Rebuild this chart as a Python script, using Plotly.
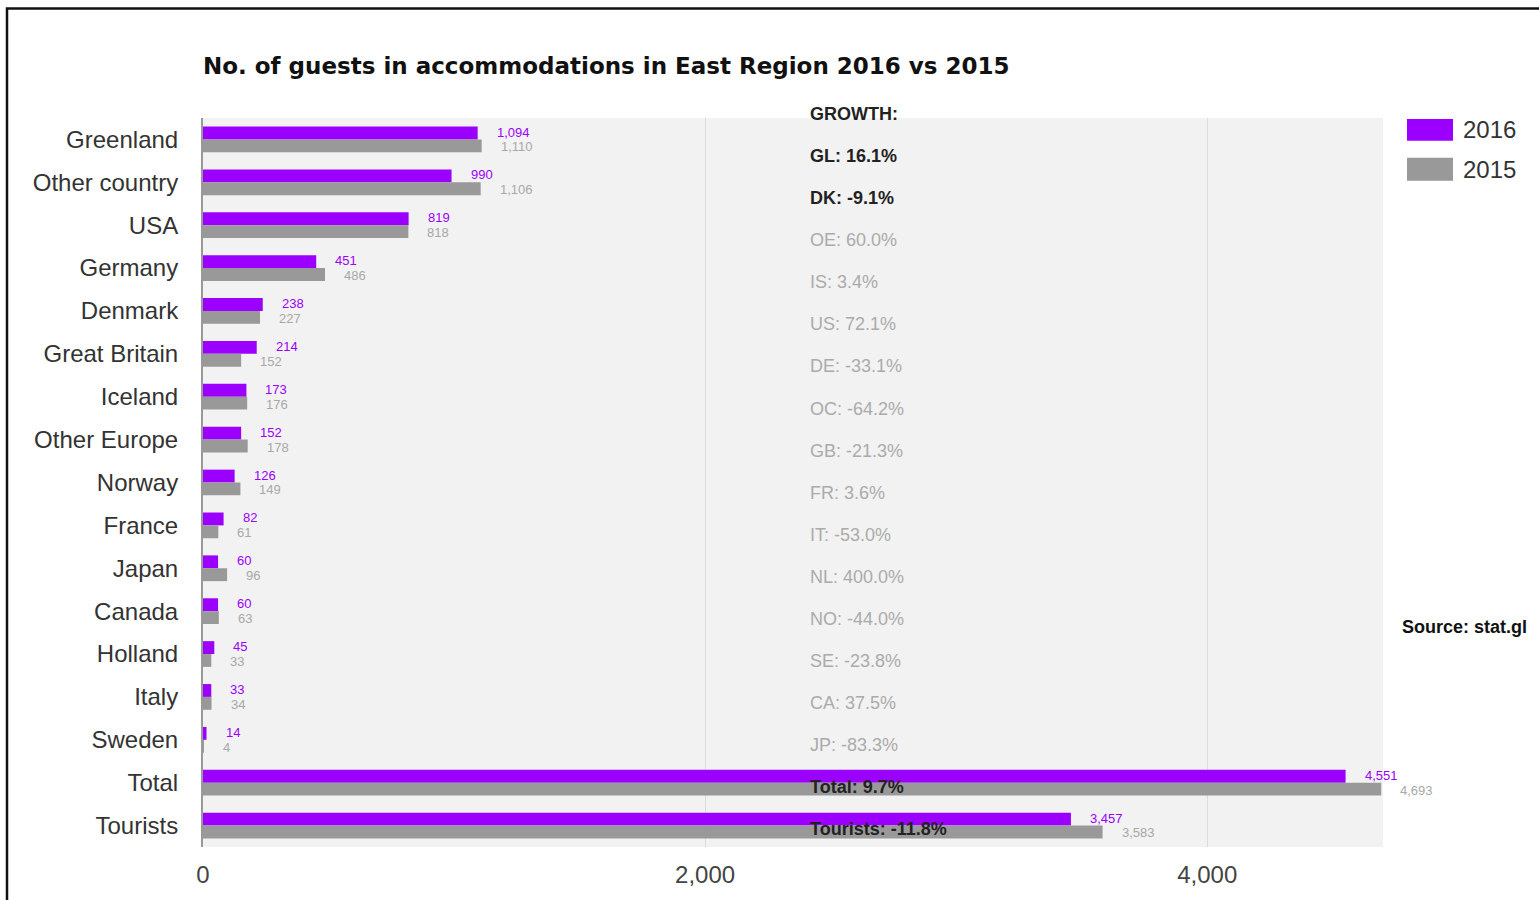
import plotly.graph_objects as go

# --- data -------------------------------------------------------------
categories = ["Greenland", "Other country", "USA", "Germany", "Denmark",
              "Great Britain", "Iceland", "Other Europe", "Norway", "France",
              "Japan", "Canada", "Holland", "Italy", "Sweden", "Total", "Tourists"]
guests_2016 = [1094, 990, 819, 451, 238, 214, 173, 152, 126, 82, 60, 60, 45, 33, 14, 4551, 3457]
guests_2015 = [1110, 1106, 818, 486, 227, 152, 176, 178, 149, 61, 96, 63, 33, 34, 4, 4693, 3583]

growth_labels = ["GROWTH:", "GL: 16.1%", "DK: -9.1%", "OE: 60.0%", "IS: 3.4%",
                 "US: 72.1%", "DE: -33.1%", "OC: -64.2%", "GB: -21.3%", "FR: 3.6%",
                 "IT: -53.0%", "NL: 400.0%", "NO: -44.0%", "SE: -23.8%", "CA: 37.5%",
                 "JP: -83.3%", "Total: 9.7%", "Tourists: -11.8%"]
growth_bold = {"GROWTH:", "GL: 16.1%", "DK: -9.1%", "Total: 9.7%", "Tourists: -11.8%"}

# --- style -----------------------------------------------------------
W, H = 1539, 900
ML, MR, MT, MB = 203, 156, 118, 49
PURPLE = "#9b00ff"
GREY = "#999999"
FONT = "Liberation Sans, Arial, Helvetica, sans-serif"
TITLE_FONT = "DejaVu Sans, Liberation Sans, Arial, sans-serif"

plot_w = W - ML - MR
plot_h = H - MT - MB


def px_x(px):
    return (px - ML) / plot_w


def px_y(py):
    return (H - MB - py) / plot_h


fig = go.Figure()
fig.add_trace(go.Bar(name="2016", y=categories, x=guests_2016, orientation="h",
                     marker=dict(color=PURPLE, line=dict(width=0))))
fig.add_trace(go.Bar(name="2015", y=categories, x=guests_2015, orientation="h",
                     marker=dict(color=GREY, line=dict(width=0))))

annotations = []
BAR_W = 0.3
# value labels at the end of each bar
for i, (a, b) in enumerate(zip(guests_2016, guests_2015)):
    annotations.append(dict(x=a, y=i - BAR_W / 2, xref="x", yref="y", text=f"{a:,}",
                            showarrow=False, xanchor="left", yanchor="middle",
                            xshift=17, yshift=1,
                            font=dict(family=FONT, size=13, color=PURPLE)))
    annotations.append(dict(x=b, y=i + BAR_W / 2, xref="x", yref="y", text=f"{b:,}",
                            showarrow=False, xanchor="left", yanchor="middle",
                            xshift=17, yshift=-1,
                            font=dict(family=FONT, size=13, color="#a8a8a8")))

# growth column
for k, txt in enumerate(growth_labels):
    bold = txt in growth_bold
    annotations.append(dict(x=px_x(808), y=px_y(114 + 42.3 * k), xref="paper", yref="paper",
                            text=f"<b>{txt}</b>" if bold else txt, showarrow=False,
                            xanchor="left", yanchor="middle",
                            font=dict(family=FONT, size=18,
                                      color="#222222" if bold else "#ababab")))

# legend
shapes = []
for (label, color, y0, y1) in [("2016", PURPLE, 119, 141), ("2015", GREY, 158, 181)]:
    shapes.append(dict(type="rect", xref="paper", yref="paper",
                       x0=px_x(1407), x1=px_x(1453), y0=px_y(y1), y1=px_y(y0),
                       fillcolor=color, line=dict(width=0)))
    annotations.append(dict(x=px_x(1461), y=px_y((y0 + y1) / 2), xref="paper", yref="paper",
                            text=label, showarrow=False, xanchor="left", yanchor="middle",
                            font=dict(family=FONT, size=24, color="#333333")))

annotations.append(dict(x=px_x(1400), y=px_y(630), xref="paper", yref="paper",
                        text="<b>Source: stat.gl</b>", showarrow=False,
                        xanchor="left", yanchor="middle",
                        font=dict(family=FONT, size=18, color="#111111")))

# outer frame
shapes.append(dict(type="rect", xref="paper", yref="paper", layer="above",
                   x0=px_x(7), x1=px_x(W + 20), y0=px_y(H + 20), y1=px_y(8),
                   line=dict(color="#111111", width=2.5), fillcolor="rgba(0,0,0,0)"))

fig.update_layout(
    width=W, height=H,
    margin=dict(l=ML, r=MR, t=MT, b=MB, pad=0),
    paper_bgcolor="white",
    plot_bgcolor="#f2f2f2",
    barmode="group", bargap=0.4, bargroupgap=0.0,
    showlegend=False,
    title=dict(text="<b>No. of guests in accommodations in East Region 2016 vs 2015</b>",
               x=0, xref="paper", xanchor="left",
               y=1 - 66 / H, yref="container", yanchor="middle",
               font=dict(family=TITLE_FONT, size=23, color="#111111")),
    xaxis=dict(range=[0, 4700], dtick=2000, tickformat=",", showgrid=True,
               gridcolor="#dcdcdc", gridwidth=1, zeroline=False, showline=False,
               ticks="", ticklabelstandoff=11,
               tickfont=dict(family=FONT, size=24, color="#444444")),
    yaxis=dict(autorange=False, range=[len(categories) - 0.5, -0.5], type="category",
               showgrid=False, zeroline=False, showline=True, linecolor="#999999",
               linewidth=2, ticks="", ticklabelstandoff=18,
               tickfont=dict(family=FONT, size=24, color="#333333")),
    annotations=annotations,
    shapes=shapes,
)

fig.write_html("out.html")
